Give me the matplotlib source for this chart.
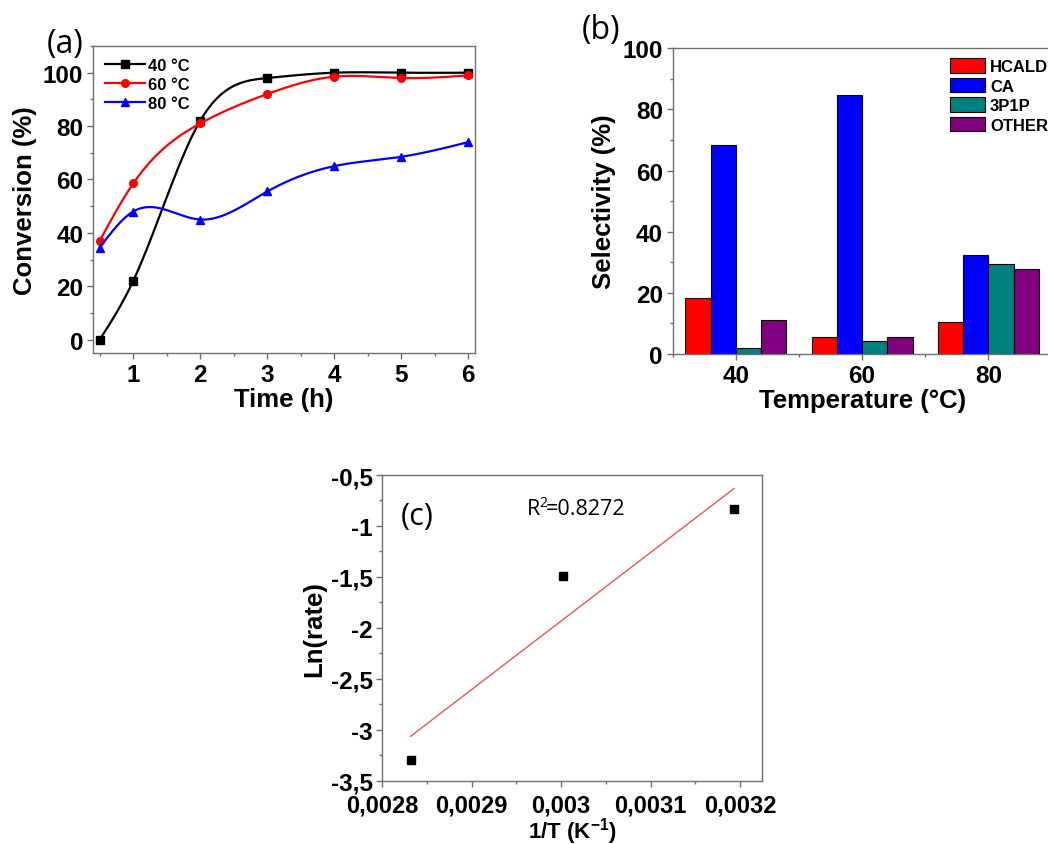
import numpy as np
import matplotlib
matplotlib.use("Agg")
import matplotlib.pyplot as plt
from matplotlib.ticker import MultipleLocator, FuncFormatter
from matplotlib.lines import Line2D

plt.rcParams['font.family'] = ['Liberation Sans', 'DejaVu Sans']
plt.rcParams['font.weight'] = 'bold'
plt.rcParams['mathtext.fontset'] = 'custom'
plt.rcParams['mathtext.rm'] = 'Liberation Sans:bold'
plt.rcParams['mathtext.it'] = 'Liberation Sans:bold'
plt.rcParams['mathtext.bf'] = 'Liberation Sans:bold'

# ---------------- data ----------------
time_h = [0.5, 1, 2, 3, 4, 5, 6]
conv_40 = [0, 22, 82, 98, 100, 100, 100]
conv_60 = [37, 58.5, 81, 92, 98.5, 98, 99]
conv_80 = [34.5, 48, 45, 55.5, 65, 68.5, 74]
conv_labels = ['40 °C', '60 °C', '80 °C']

temps = [40, 60, 80]
products = ['HCALD', 'CA', '3P1P', 'OTHER']
sel_hcald = [18.2, 5.5, 10.5]
sel_ca = [68.5, 84.8, 32.5]
sel_3p1p = [2.0, 4.3, 29.3]
sel_other = [11.0, 5.5, 27.7]

inv_T = [1 / 353.15, 1 / 333.15, 1 / 313.15]
ln_rate = [-3.294, -1.488, -0.837]
r2_value = '=0.8272'

SPINE = '#707070'
REG = ['Open Sans', 'DejaVu Sans']


def natural_spline(x, y, n=300):
    x = np.asarray(x, float)
    y = np.asarray(y, float)
    m = len(x)
    h = np.diff(x)
    A = np.zeros((m, m))
    b = np.zeros(m)
    A[0, 0] = 1
    A[-1, -1] = 1
    for i in range(1, m - 1):
        A[i, i - 1] = h[i - 1]
        A[i, i] = 2 * (h[i - 1] + h[i])
        A[i, i + 1] = h[i]
        b[i] = 3 * ((y[i + 1] - y[i]) / h[i] - (y[i] - y[i - 1]) / h[i - 1])
    c = np.linalg.solve(A, b)
    xs = np.linspace(x[0], x[-1], n)
    ys = np.empty_like(xs)
    for k, xv in enumerate(xs):
        i = min(np.searchsorted(x, xv, side='right') - 1, m - 2)
        bi = (y[i + 1] - y[i]) / h[i] - h[i] * (2 * c[i] + c[i + 1]) / 3
        di = (c[i + 1] - c[i]) / (3 * h[i])
        dx = xv - x[i]
        ys[k] = y[i] + bi * dx + c[i] * dx ** 2 + di * dx ** 3
    return xs, ys


def style_axes(ax, fs, pad=3):
    for s in ax.spines.values():
        s.set_color(SPINE)
        s.set_linewidth(1.0)
    ax.tick_params(which='major', direction='out', length=4, width=1, color=SPINE,
                   labelsize=fs, pad=pad)
    ax.tick_params(which='minor', direction='out', length=2.5, width=1, color=SPINE)


W, H = 1048, 845
fig = plt.figure(figsize=(W / 100, H / 100), dpi=100)


def rect(x0, y0, x1, y1):
    return [x0 / W, 1 - y1 / H, (x1 - x0) / W, (y1 - y0) / H]


# ---------------- (a) ----------------
axa = fig.add_axes(rect(93, 47, 475, 354))
colors_a = ['black', 'red', 'blue']
markers_a = ['s', 'o', '^']
handles = []
for ys, c, mk, lab in zip([conv_40, conv_60, conv_80], colors_a, markers_a, conv_labels):
    sx, sy = natural_spline(time_h, ys)
    axa.plot(sx, sy, color=c, lw=1.6)
    axa.plot(time_h, ys, linestyle='none', marker=mk, color=c, markersize=5.5)
    handles.append(Line2D([], [], color=c, lw=1.6, marker=mk, markersize=5.5, label=lab))
axa.set_xlim(0.4, 6.1)
axa.set_ylim(-5, 110)
axa.xaxis.set_major_locator(MultipleLocator(1))
axa.xaxis.set_minor_locator(MultipleLocator(0.5))
axa.yaxis.set_major_locator(MultipleLocator(20))
axa.yaxis.set_minor_locator(MultipleLocator(10))
style_axes(axa, 17.5)
axa.set_xlabel('Time (h)', fontsize=18.5, fontweight='bold', labelpad=1)
axa.set_ylabel('Conversion (%)', fontsize=18.5, fontweight='bold', labelpad=4)
axa.legend(handles=handles, loc='upper left', frameon=False,
           prop={'weight': 'bold', 'size': 12}, handlelength=2.4,
           labelspacing=0.25, borderaxespad=0.3, handletextpad=0.2)
fig.text(47 / W, 1 - 44 / H, '(a)', fontsize=23, fontweight='normal',
         family=REG, va='center', ha='left')

# ---------------- (b) ----------------
axb = fig.add_axes(rect(672.7, 49.3, 1051.5, 355))
bar_colors = ['#FF0000', '#0000FF', '#008080', '#800080']
bw = 4
offsets = [-6, -2, 2, 6]
for vals, c, off, lab in zip([sel_hcald, sel_ca, sel_3p1p, sel_other], bar_colors, offsets, products):
    axb.bar(np.array(temps) + off, vals, width=bw, color=c, edgecolor='black',
            linewidth=0.8, label=lab)
axb.set_xlim(30, 90)
axb.set_ylim(0, 100)
axb.set_xticks(temps)
axb.xaxis.set_minor_locator(MultipleLocator(10))
axb.yaxis.set_major_locator(MultipleLocator(20))
axb.yaxis.set_minor_locator(MultipleLocator(10))
style_axes(axb, 17.5)
axb.set_xlabel('Temperature (°C)', fontsize=18.5, fontweight='bold', labelpad=1)
axb.set_ylabel('Selectivity (%)', fontsize=18.5, fontweight='bold', labelpad=5)
axb.legend(loc='upper left', bbox_to_anchor=(950 / W, 1 - 59 / H),
           bbox_transform=fig.transFigure, frameon=False,
           prop={'weight': 'bold', 'size': 12}, handlelength=2.1, handleheight=1.0,
           labelspacing=0.2, borderaxespad=0, borderpad=0, handletextpad=0.3)
fig.text(582 / W, 1 - 31 / H, '(b)', fontsize=23, fontweight='normal',
         family=REG, va='center', ha='left')

# ---------------- (c) ----------------
axc = fig.add_axes(rect(382.3, 476, 762.3, 781.7))
axc.plot(inv_T, ln_rate, linestyle='none', marker='s', color='black', markersize=5.5)
coef = np.polyfit(inv_T, ln_rate, 1)
fx = np.array([min(inv_T), max(inv_T)])
axc.plot(fx, np.polyval(coef, fx), color='#FF4040', lw=0.9)
axc.set_xlim(0.0028, 0.003225)
axc.set_ylim(-3.5, -0.5)
axc.xaxis.set_major_locator(MultipleLocator(0.0001))
axc.xaxis.set_minor_locator(MultipleLocator(0.00005))
axc.yaxis.set_major_locator(MultipleLocator(0.5))
axc.yaxis.set_minor_locator(MultipleLocator(0.25))
fmt = FuncFormatter(lambda v, p: ('%g' % round(v, 6)).replace('.', ','))
axc.xaxis.set_major_formatter(fmt)
axc.yaxis.set_major_formatter(fmt)
style_axes(axc, 17.5)
axc.tick_params(axis='x', which='major', pad=5.5, labelsize=17)
axc.set_xlabel(r'1/T (K$^{-1}$)', fontsize=16, fontweight='bold', labelpad=-1.5)
axc.set_ylabel('Ln(rate)', fontsize=18.5, fontweight='bold', labelpad=3)
fig.text(401 / W, 1 - 517 / H, '(c)', fontsize=22, fontweight='normal',
         family=REG, va='center', ha='left')
fig.text(527 / W, 1 - 510 / H, 'R', fontsize=15.5, fontweight='normal',
         family=REG, va='center', ha='left')
fig.text(539.5 / W, 1 - 504 / H, '2', fontsize=10, fontweight='normal',
         family=REG, va='center', ha='left')
fig.text(546 / W, 1 - 510 / H, r2_value, fontsize=15.5, fontweight='normal',
         family=REG, va='center', ha='left')

fig.savefig('out.png', dpi=100)
